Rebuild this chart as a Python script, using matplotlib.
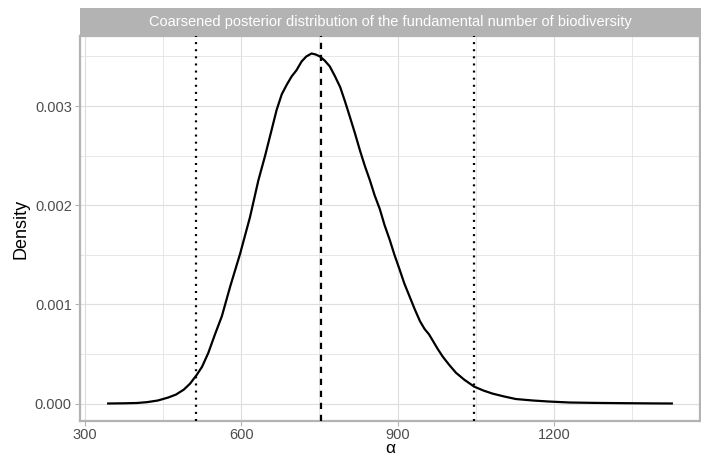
import matplotlib
matplotlib.use("Agg")
import matplotlib.pyplot as plt
from matplotlib.ticker import FixedLocator

plt.rcParams['font.family'] = ['Liberation Sans', 'DejaVu Sans']

# Density curve
alpha = [345, 375, 400, 420, 440, 460, 475, 490, 502, 515, 525, 537, 550, 563,
         579, 598, 617, 633, 646, 658, 668, 678, 688, 697, 706, 716, 725, 735,
         743, 751, 760, 770, 780, 790, 799, 808, 818, 828, 837, 847, 856, 866,
         875, 885, 894, 904, 913, 923, 933, 943, 952, 960, 968, 977, 987, 999,
         1012, 1028, 1047, 1065, 1082, 1105, 1127, 1160, 1190, 1230, 1280, 1340,
         1390, 1426]
density = [0.0, 0.000002, 0.000005, 0.000014, 0.00003, 0.00006, 0.00009, 0.00014,
           0.0002, 0.00029, 0.00037, 0.00051, 0.0007, 0.00088, 0.00118, 0.00151,
           0.00188, 0.00225, 0.0025, 0.00275, 0.00296, 0.00312, 0.00322, 0.0033,
           0.00336, 0.00345, 0.0035, 0.00353, 0.00352, 0.0035, 0.00346, 0.0034,
           0.0033, 0.00319, 0.00305, 0.0029, 0.00273, 0.00255, 0.0024, 0.00225,
           0.0021, 0.00196, 0.0018, 0.00165, 0.0015, 0.00135, 0.00121, 0.00108,
           0.00095, 0.00083, 0.00075, 0.0007, 0.00063, 0.00055, 0.00047, 0.00039,
           0.00031, 0.00024, 0.00017, 0.00013, 0.0001, 0.00007, 0.000045, 0.00003,
           0.00002, 0.00001, 0.000006, 0.000003, 0.000001, 0.0]

interval = [513.5, 1047.5]
point_estimate = 752.5

strip_title = "Coarsened posterior distribution of the fundamental number of biodiversity"
x_ticks = [300, 600, 900, 1200]
x_minor = [450, 750, 1050, 1350]
y_ticks = [0.000, 0.001, 0.002, 0.003]
y_minor = [0.0005, 0.0015, 0.0025, 0.0035]

W, H = 701, 457
fig = plt.figure(figsize=(W / 100, H / 100), dpi=100)
L, R, T, B = 80, 700, 36, 421
ax = fig.add_axes([L / W, 1 - B / H, (R - L) / W, (B - T) / H])

lw = 1.6
ax.plot(alpha, density, color='black', lw=lw, solid_joinstyle='round', zorder=3)
for v in interval:
    ax.axvline(v, color='black', lw=lw, linestyle=(0, (0.9, 2.3)), zorder=3)
ax.axvline(point_estimate, color='black', lw=lw, linestyle=(0, (2.8, 2.6)), zorder=3)

span = max(alpha) - min(alpha)
ax.set_xlim(min(alpha) - 0.05 * span, max(alpha) + 0.05 * span)
ymax = max(density)
ax.set_ylim(-0.05 * ymax, 1.05 * ymax)

ax.xaxis.set_major_locator(FixedLocator(x_ticks))
ax.xaxis.set_minor_locator(FixedLocator(x_minor))
ax.yaxis.set_major_locator(FixedLocator(y_ticks))
ax.yaxis.set_minor_locator(FixedLocator(y_minor))
ax.set_xticklabels([str(t) for t in x_ticks])
ax.set_yticklabels([f"{t:.3f}" for t in y_ticks])

ax.grid(which='major', color='#DEDEDE', lw=0.85, zorder=0)
ax.grid(which='minor', color='#E3E3E3', lw=0.6, zorder=0)
ax.set_axisbelow(True)

for s in ax.spines.values():
    s.set_color('#B3B3B3')
    s.set_linewidth(1.6)
ax.tick_params(which='major', length=3.3, width=0.8, color='#B3B3B3',
               labelsize=10.5, labelcolor='#4D4D4D', pad=2.6)
ax.tick_params(axis='x', which='major', pad=1.8)
ax.tick_params(which='minor', length=0)

ax.set_xlabel("α", fontsize=12.5, labelpad=-1)
ax.set_ylabel("Density", fontsize=13, labelpad=4)

# facet strip
sax = fig.add_axes([L / W, 1 - T / H, (W - L) / W, (T - 8) / H])
sax.set_facecolor('#B3B3B3')
sax.set_xticks([]); sax.set_yticks([])
for s in sax.spines.values():
    s.set_visible(False)
sax.text(0.5, 0.5, strip_title, color='white', fontsize=10.5,
         ha='center', va='center', transform=sax.transAxes)

fig.savefig("out.png", dpi=100)
